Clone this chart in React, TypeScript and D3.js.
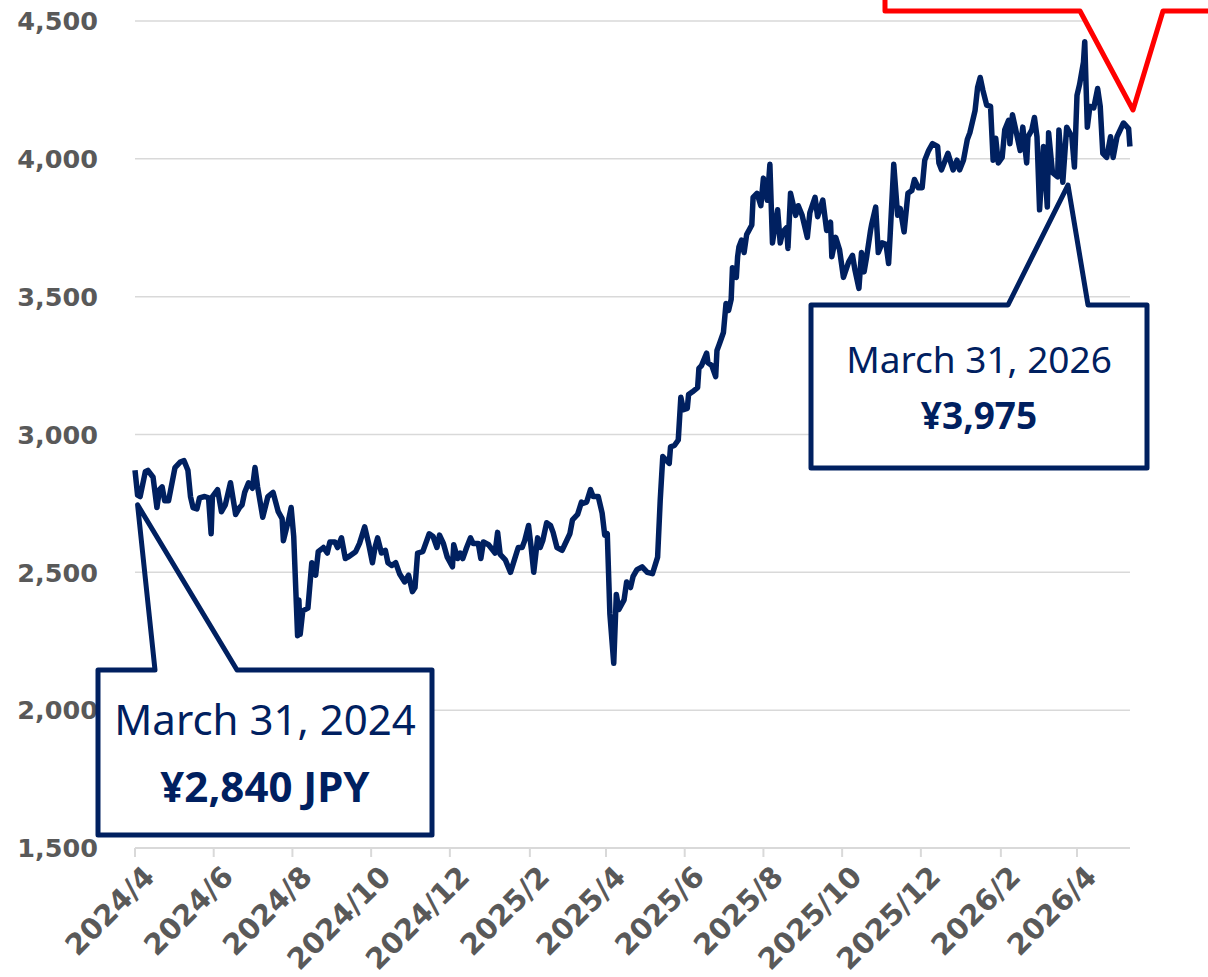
import { useEffect, useRef } from "react";
import * as d3 from "d3";

// closing prices, split by year
const dates2024 = [
  "2024-04-01","2024-04-03","2024-04-05","2024-04-09","2024-04-11","2024-04-15","2024-04-18","2024-04-20","2024-04-22","2024-04-24",
  "2024-04-27","2024-05-02","2024-05-06","2024-05-09","2024-05-12","2024-05-14","2024-05-16","2024-05-19","2024-05-21","2024-05-25",
  "2024-05-28","2024-05-30","2024-05-31","2024-06-04","2024-06-07","2024-06-10","2024-06-14","2024-06-18","2024-06-21","2024-06-23",
  "2024-06-25","2024-06-28","2024-07-01","2024-07-03","2024-07-05","2024-07-09","2024-07-13","2024-07-17","2024-07-21","2024-07-24",
  "2024-07-25","2024-07-29","2024-07-31","2024-08-02","2024-08-05","2024-08-06","2024-08-07","2024-08-09","2024-08-13","2024-08-16",
  "2024-08-19","2024-08-21","2024-08-25","2024-08-28","2024-08-30","2024-09-03","2024-09-05","2024-09-08","2024-09-11","2024-09-13",
  "2024-09-19","2024-09-22","2024-09-26","2024-09-29","2024-10-02","2024-10-04","2024-10-06","2024-10-09","2024-10-12","2024-10-14",
  "2024-10-17","2024-10-20","2024-10-23","2024-10-27","2024-10-30","2024-11-02","2024-11-04","2024-11-06","2024-11-10","2024-11-15",
  "2024-11-18","2024-11-21","2024-11-23","2024-11-26","2024-11-29","2024-12-03","2024-12-04","2024-12-07","2024-12-09","2024-12-11",
  "2024-12-14","2024-12-17","2024-12-19","2024-12-23","2024-12-25","2024-12-27","2024-12-31",
];
const prices2024 = [
  2870,2780,2775,2865,2870,2845,2735,2800,2810,2760,
  2760,2880,2900,2905,2870,2775,2735,2730,2770,2775,
  2770,2640,2775,2800,2720,2745,2825,2710,2735,2745,
  2790,2825,2805,2880,2810,2700,2775,2790,2720,2695,
  2615,2690,2735,2630,2270,2400,2275,2360,2370,2535,
  2490,2575,2590,2570,2610,2610,2590,2625,2550,2555,
  2575,2605,2665,2605,2535,2590,2625,2570,2580,2535,
  2525,2535,2495,2465,2490,2430,2445,2570,2575,2640,
  2630,2590,2635,2605,2555,2520,2600,2550,2570,2550,
  2590,2625,2605,2605,2550,2610,2600,
];

const dates2025 = [
  "2025-01-05","2025-01-07","2025-01-09","2025-01-13","2025-01-17","2025-01-20","2025-01-23","2025-01-26","2025-01-28","2025-01-31",
  "2025-02-02","2025-02-04","2025-02-07","2025-02-09","2025-02-11","2025-02-14","2025-02-17","2025-02-19","2025-02-22","2025-02-26",
  "2025-02-28","2025-03-04","2025-03-06","2025-03-08","2025-03-10","2025-03-13","2025-03-14","2025-03-17","2025-03-20","2025-03-22",
  "2025-03-26","2025-03-29","2025-03-31","2025-04-02","2025-04-04","2025-04-07","2025-04-09","2025-04-11","2025-04-15","2025-04-17",
  "2025-04-20","2025-04-22","2025-04-25","2025-04-29","2025-05-03","2025-05-07","2025-05-11","2025-05-13","2025-05-15","2025-05-18",
  "2025-05-20","2025-05-21","2025-05-24","2025-05-27","2025-05-29","2025-05-31","2025-06-03","2025-06-04","2025-06-07","2025-06-11",
  "2025-06-12","2025-06-14","2025-06-18","2025-06-19","2025-06-22","2025-06-25","2025-06-26","2025-06-28","2025-07-01","2025-07-03",
  "2025-07-05","2025-07-07","2025-07-08","2025-07-11","2025-07-12","2025-07-13","2025-07-15","2025-07-17","2025-07-19","2025-07-23",
  "2025-07-24","2025-07-27","2025-07-30","2025-08-01","2025-08-04","2025-08-06","2025-08-08","2025-08-12","2025-08-14","2025-08-16",
  "2025-08-19","2025-08-20","2025-08-22","2025-08-26","2025-08-28","2025-08-31","2025-09-04","2025-09-06","2025-09-10","2025-09-12",
  "2025-09-16","2025-09-19","2025-09-22","2025-09-23","2025-09-26","2025-09-29","2025-10-02","2025-10-06","2025-10-09","2025-10-11",
  "2025-10-14","2025-10-16","2025-10-18","2025-10-20","2025-10-23","2025-10-24","2025-10-27","2025-10-29","2025-11-01","2025-11-04",
  "2025-11-06","2025-11-07","2025-11-10","2025-11-13","2025-11-15","2025-11-18","2025-11-21","2025-11-24","2025-11-26","2025-11-29",
  "2025-12-02","2025-12-04","2025-12-07","2025-12-10","2025-12-14","2025-12-15","2025-12-17","2025-12-22","2025-12-26","2025-12-29",
  "2025-12-31",
];
const prices2025 = [
  2570,2645,2565,2545,2500,2545,2590,2590,2615,2670,
  2590,2500,2625,2590,2615,2680,2670,2645,2590,2580,
  2600,2640,2690,2700,2710,2755,2750,2755,2800,2775,
  2775,2715,2635,2640,2350,2170,2420,2365,2400,2465,
  2445,2485,2510,2520,2500,2495,2555,2760,2920,2905,
  2895,2955,2960,2980,3135,3090,3095,3145,3155,3170,
  3240,3250,3295,3260,3250,3210,3305,3330,3370,3475,
  3450,3490,3605,3570,3645,3680,3705,3660,3725,3760,
  3860,3875,3830,3930,3850,3980,3695,3815,3695,3735,
  3750,3675,3875,3795,3830,3795,3715,3805,3860,3790,
  3850,3740,3770,3645,3715,3670,3570,3625,3650,3595,
  3530,3660,3590,3645,3740,3765,3825,3660,3695,3690,
  3620,3705,3980,3795,3820,3735,3875,3885,3925,3895,
  3895,3995,4030,4055,4045,3985,3960,4020,3960,3995,
  3960,
];

const dates2026 = [
  "2026-01-03","2026-01-06","2026-01-08","2026-01-12","2026-01-14","2026-01-16","2026-01-18","2026-01-21","2026-01-24","2026-01-26",
  "2026-01-28","2026-01-30","2026-02-02","2026-02-04","2026-02-07","2026-02-08","2026-02-10","2026-02-13","2026-02-16","2026-02-18",
  "2026-02-21","2026-02-22","2026-02-25","2026-02-27","2026-03-01","2026-03-03","2026-03-06","2026-03-09","2026-03-10","2026-03-13",
  "2026-03-17","2026-03-18","2026-03-21","2026-03-24","2026-03-28","2026-03-30","2026-04-01","2026-04-03","2026-04-06","2026-04-07",
  "2026-04-09","2026-04-11","2026-04-14","2026-04-17","2026-04-19","2026-04-21","2026-04-24","2026-04-27","2026-04-29","2026-05-02",
  "2026-05-07","2026-05-11","2026-05-12",
];
const prices2026 = [
  3995,4070,4095,4175,4260,4295,4250,4195,4190,3995,
  4075,3985,4005,4105,4140,4055,4160,4095,4030,4115,
  3985,4080,4105,4150,4080,3815,4045,3825,4095,3950,
  3935,4105,3915,4115,4080,3970,4230,4270,4350,4425,
  4115,4190,4185,4255,4190,4020,4005,4080,4005,4080,
  4130,4110,4045,
];

const yTicks = [1500, 2000, 2500, 3000, 3500, 4000, 4500];
const xTicks = [
  "2024-04-01","2024-06-01","2024-08-01","2024-10-01","2024-12-01","2025-02-01","2025-04-01",
  "2025-06-01","2025-08-01","2025-10-01","2025-12-01","2026-02-01","2026-04-01",
];

const callouts = [
  { title: "March 31, 2024", price: "¥2,840 JPY", tipDate: "2024-04-03", tipValue: 2745 },
  { title: "March 31, 2026", price: "¥3,975", tipDate: "2026-03-25", tipValue: 3905 },
];

export default function App() {
  const ref = useRef<HTMLDivElement>(null);

  useEffect(() => {
    const width = 1208;
    const height = 977;
    const left = 135;
    const right = 1130;
    const navy = "#002060";
    const axisFont = "'DejaVu Sans', Verdana, sans-serif";
    const parse = d3.timeParse("%Y-%m-%d");

    const svg = d3
      .select(ref.current)
      .append("svg")
      .attr("width", width)
      .attr("height", height)
      .style("position", "absolute")
      .style("left", "0px")
      .style("top", "0px")
      .style("background", "#fff");

    const allDates = [...dates2024, ...dates2025, ...dates2026];
    const allPrices = [...prices2024, ...prices2025, ...prices2026];
    const data = allDates.map((d, i) => ({ date: parse(d) as Date, value: allPrices[i] }));

    const x = d3
      .scaleTime()
      .domain([parse("2024-04-01") as Date, parse("2026-04-01") as Date])
      .range([left, 1077]);
    const y = d3.scaleLinear().domain([1500, 4500]).range([848, 21]);

    // gridlines
    svg
      .append("g")
      .selectAll("line")
      .data(yTicks.slice(1))
      .join("line")
      .attr("x1", left)
      .attr("x2", right)
      .attr("y1", (d) => y(d))
      .attr("y2", (d) => y(d))
      .attr("stroke", "#d9d9d9")
      .attr("stroke-width", 1.5);

    // y labels
    svg
      .append("g")
      .selectAll("text")
      .data(yTicks)
      .join("text")
      .attr("x", 98)
      .attr("y", (d) => y(d))
      .attr("dy", "0.36em")
      .attr("text-anchor", "end")
      .attr("font-family", axisFont)
      .attr("font-weight", "bold")
      .attr("font-size", 25.5)
      .attr("fill", "#595959")
      .text((d) => d3.format(",")(d));

    // x axis
    svg
      .append("line")
      .attr("x1", left)
      .attr("x2", right)
      .attr("y1", y(1500))
      .attr("y2", y(1500))
      .attr("stroke", "#d9d9d9")
      .attr("stroke-width", 2);

    const fmtMonth = (d: string) => {
      const dt = parse(d) as Date;
      return `${dt.getFullYear()}/${dt.getMonth() + 1}`;
    };
    const xt = svg.append("g").selectAll("g").data(xTicks).join("g");
    xt.append("line")
      .attr("x1", (d) => x(parse(d) as Date))
      .attr("x2", (d) => x(parse(d) as Date))
      .attr("y1", y(1500))
      .attr("y2", y(1500) + 9)
      .attr("stroke", "#d9d9d9")
      .attr("stroke-width", 2);
    xt.append("text")
      .attr("transform", (d) => `translate(${x(parse(d) as Date) + 7},${y(1500) + 16}) rotate(-45)`)
      .attr("dy", "0.7em")
      .attr("text-anchor", "end")
      .attr("font-family", axisFont)
      .attr("font-weight", "bold")
      .attr("font-size", 29)
      .attr("fill", "#595959")
      .text((d) => fmtMonth(d));

    // price line
    const line = d3
      .line<{ date: Date; value: number }>()
      .x((d) => x(d.date))
      .y((d) => y(d.value));
    svg
      .append("path")
      .datum(data)
      .attr("d", line)
      .attr("fill", "none")
      .attr("stroke", navy)
      .attr("stroke-width", 5.5)
      .attr("stroke-linejoin", "round");

    // callout boxes
    const boxes = [
      { x0: 98, y0: 670, x1: 432, y1: 835, baseL: 155, baseR: 237, ty: 735, py: 802, tsize: 42, psize: 42 },
      { x0: 811, y0: 305, x1: 1147, y1: 468, baseL: 1008, baseR: 1088, ty: 373, py: 429, tsize: 37, psize: 37 },
    ];
    callouts.forEach((c, i) => {
      const b = boxes[i];
      const tx = x(parse(c.tipDate) as Date);
      const ty = y(c.tipValue);
      const g = svg.append("g");
      g.append("rect")
        .attr("x", b.x0)
        .attr("y", b.y0)
        .attr("width", b.x1 - b.x0)
        .attr("height", b.y1 - b.y0)
        .attr("fill", "#fff");
      g.append("path")
        .attr(
          "d",
          `M${b.x0},${b.y0}L${b.baseL},${b.y0}L${tx},${ty}L${b.baseR},${b.y0}L${b.x1},${b.y0}L${b.x1},${b.y1}L${b.x0},${b.y1}Z`
        )
        .attr("fill", "none")
        .attr("stroke", navy)
        .attr("stroke-width", 5)
        .attr("stroke-linejoin", "round");
      const cx = (b.x0 + b.x1) / 2;
      g.append("text")
        .attr("x", cx)
        .attr("y", b.ty)
        .attr("text-anchor", "middle")
        .attr("font-family", "'Noto Sans', sans-serif")
        .attr("font-size", b.tsize)
        .attr("fill", navy)
        .text(c.title);
      g.append("text")
        .attr("x", cx)
        .attr("y", b.py)
        .attr("text-anchor", "middle")
        .attr("font-family", "'Noto Sans', sans-serif")
        .attr("font-weight", "bold")
        .attr("font-size", b.psize)
        .attr("fill", navy)
        .text(c.price);
    });

    // red callout cut off at the top
    svg
      .append("path")
      .attr("d", "M885,-10L885,11L1080,11L1133,110L1163,11L1220,11L1220,-10Z")
      .attr("fill", "#fff")
      .attr("stroke", "#ff0000")
      .attr("stroke-width", 5)
      .attr("stroke-linejoin", "round");

    return () => {
      d3.select(ref.current).selectAll("*").remove();
    };
  }, []);

  return <div ref={ref} />;
}
